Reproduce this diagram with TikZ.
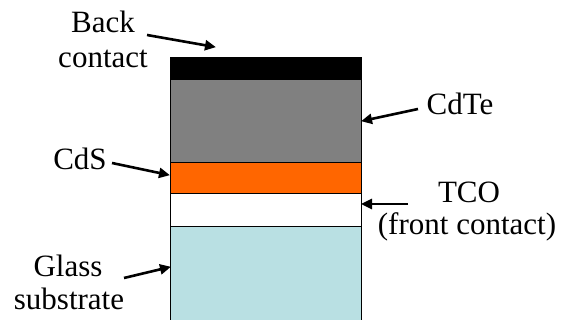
\documentclass[tikz,border=0pt]{standalone}
\usepackage{fontspec}
\setmainfont{Liberation Serif}
\usetikzlibrary{arrows.meta}
\definecolor{cdtegray}{RGB}{128,128,128}
\definecolor{cdsorange}{RGB}{255,102,0}
\definecolor{glassblue}{RGB}{185,224,227}
\tikzset{
  layer/.style={draw=black, line width=0.9pt},
  lbl/.style={inner sep=0pt, anchor=base, font=\fontsize{31}{34}\selectfont},
  pointer/.style={line width=2.6pt, -{Triangle[length=11pt,width=10pt]}, shorten >=-1pt}
}
\begin{document}
\begin{tikzpicture}[x=1pt,y=-1pt]
\useasboundingbox (0,0) rectangle (563,320);
% layers
\draw[layer, fill=glassblue] (170,226) rectangle (361,325);
\draw[layer, fill=white] (170,193) rectangle (361,226);
\draw[layer, fill=cdsorange] (170,162) rectangle (361,193);
\draw[layer, fill=cdtegray] (170,79) rectangle (361,162);
\draw[layer, fill=black] (170,57) rectangle (361,79);
% labels
\node[lbl] (back1) at (103,33) {Back};
\node[lbl] (back2) at (103,68) {contact};
\node[lbl] (cdte) at (460,115) {CdTe};
\node[lbl] (cds) at (80,170) {CdS};
\node[lbl] (tco1) at (469,203) {TCO};
\node[lbl] (tco2) at (467,235) {(front contact)};
\node[lbl] (glass1) at (68,277) {Glass};
\node[lbl] (glass2) at (69,310) {substrate};
% arrow ends
\coordinate (backT) at (147,35);  \coordinate (backH) at (215,47);
\coordinate (cdteT) at (418,109); \coordinate (cdteH) at (362,121);
\coordinate (cdsT) at (112,163);  \coordinate (cdsH) at (169,175);
\coordinate (tcoT) at (408,204);  \coordinate (tcoH) at (362,204);
\coordinate (glassT) at (124,278); \coordinate (glassH) at (170,267);
\draw[pointer] (backT) -- (backH);
\draw[pointer] (cdteT) -- (cdteH);
\draw[pointer] (cdsT) -- (cdsH);
\draw[pointer] (tcoT) -- (tcoH);
\draw[pointer] (glassT) -- (glassH);
\end{tikzpicture}
\end{document}
